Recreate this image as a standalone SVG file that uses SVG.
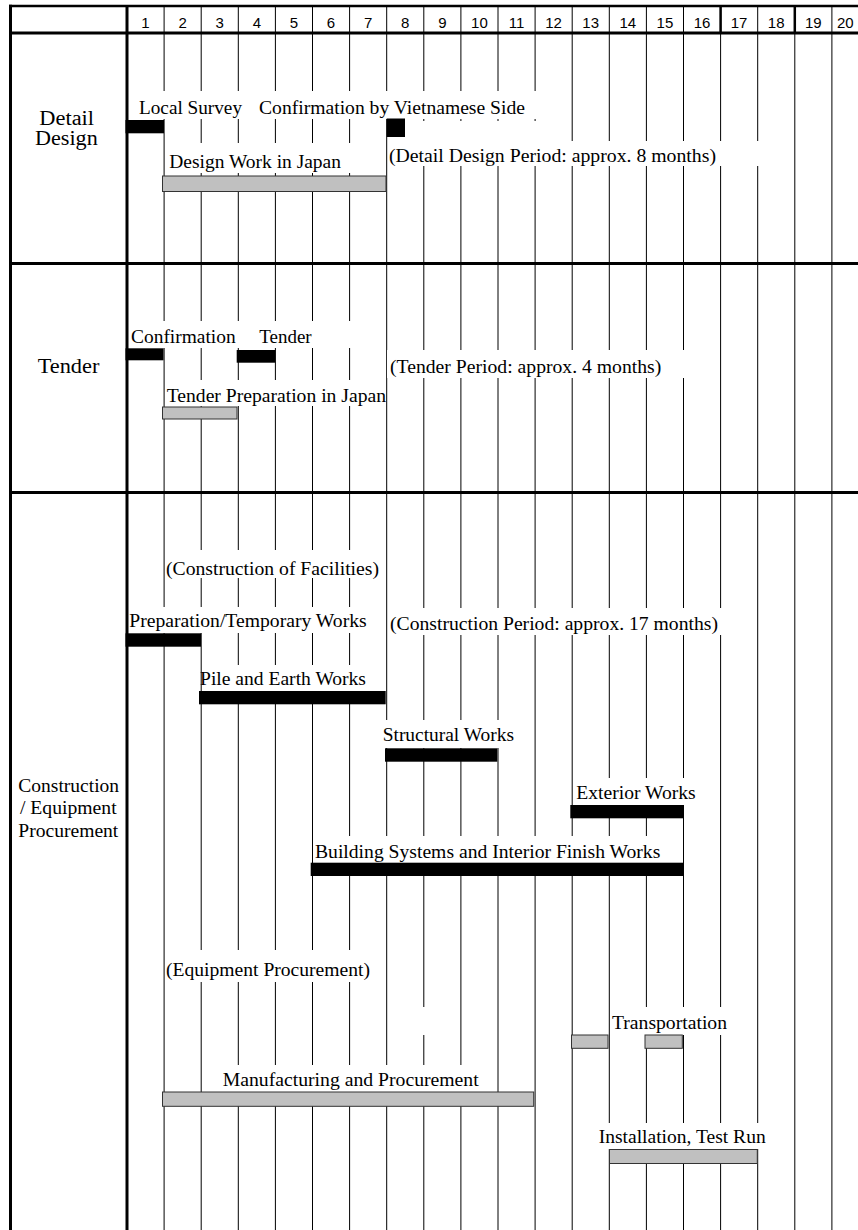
<svg xmlns="http://www.w3.org/2000/svg" width="858" height="1230" viewBox="0 0 858 1230">
<style>
.hd{font-family:"Liberation Sans",Arial,sans-serif;font-size:15px;text-anchor:middle;fill:#000}
.lb{font-family:"Liberation Serif","Times New Roman",serif;font-size:19px;fill:#000}
.rl{font-family:"Liberation Serif","Times New Roman",serif;font-size:20px;text-anchor:middle;fill:#000}
.rs{font-family:"Liberation Serif","Times New Roman",serif;font-size:19px;text-anchor:middle;fill:#000}
.bk{fill:#000}
.gr{fill:#c0c0c0;stroke:#333;stroke-width:1}
.gap{fill:#fff}
.thin{stroke:#000;stroke-width:1;fill:none}
.thick{stroke:#000;stroke-width:3;fill:none}
</style>
<rect width="858" height="1230" fill="#fff"/>
<g id="grid">
<path class="thin" d="M164.1 6V1230M201.2 6V1230M238.3 6V1230M275.4 6V1230M312.5 6V1230M349.6 6V1230M386.7 6V1230M423.8 6V1230M460.9 6V1230M498 6V1230M535.1 6V1230M572.2 6V1230M609.3 6V1230M646.4 6V1230M683.5 6V1230M720.6 6V1230M757.7 6V1230M794.8 6V1230M831.9 6V1230"/>
<path stroke="#000" stroke-width="2.5" d="M720.6 6V33M794.8 6V33"/>
<path stroke="#000" stroke-width="2.5" d="M9 6H858"/>
<path class="thick" d="M10.5 4.8V1230M127 6V1230M9 33H858M9 263.5H858M9 492.5H858"/>
</g>
<g id="header">
<text class="hd" x="145.5" y="28">1</text>
<text class="hd" x="182.6" y="28">2</text>
<text class="hd" x="219.7" y="28">3</text>
<text class="hd" x="256.8" y="28">4</text>
<text class="hd" x="293.9" y="28">5</text>
<text class="hd" x="331" y="28">6</text>
<text class="hd" x="368.1" y="28">7</text>
<text class="hd" x="405.2" y="28">8</text>
<text class="hd" x="442.3" y="28">9</text>
<text class="hd" x="479.4" y="28">10</text>
<text class="hd" x="516.5" y="28">11</text>
<text class="hd" x="553.6" y="28">12</text>
<text class="hd" x="590.7" y="28">13</text>
<text class="hd" x="627.8" y="28">14</text>
<text class="hd" x="664.9" y="28">15</text>
<text class="hd" x="702" y="28">16</text>
<text class="hd" x="739.1" y="28">17</text>
<text class="hd" x="776.2" y="28">18</text>
<text class="hd" x="813.3" y="28">19</text>
<text class="hd" x="837" y="28" style="text-anchor:start">20</text>
</g>
<g id="row-labels">
<text class="rl" x="66.7" y="124.5" textLength="54.7" lengthAdjust="spacingAndGlyphs">Detail</text>
<text class="rl" x="66.4" y="145" textLength="62.7" lengthAdjust="spacingAndGlyphs">Design</text>
<text class="rl" x="68.5" y="373" textLength="61.7" lengthAdjust="spacingAndGlyphs">Tender</text>
<text class="rs" x="68.7" y="792" textLength="100.7" lengthAdjust="spacingAndGlyphs">Construction</text>
<text class="rs" x="68.3" y="814" textLength="96.7" lengthAdjust="spacingAndGlyphs">/ Equipment</text>
<text class="rs" x="68.3" y="836.5" textLength="100" lengthAdjust="spacingAndGlyphs">Procurement</text>
</g>
<g id="text-backgrounds">
<rect class="gap" x="129" y="91" width="409" height="28"/>
<rect class="gap" x="166" y="143" width="219" height="30"/>
<rect class="gap" x="388" y="121" width="157" height="45"/>
<rect class="gap" x="545" y="141" width="217" height="25"/>
<rect class="gap" x="129" y="321" width="255" height="27"/>
<rect class="gap" x="387" y="350" width="313" height="28"/>
<rect class="gap" x="165" y="380" width="220" height="26"/>
<rect class="gap" x="165" y="550" width="219" height="28"/>
<rect class="gap" x="129" y="607" width="255" height="26"/>
<rect class="gap" x="388" y="608" width="352" height="27"/>
<rect class="gap" x="203" y="665" width="181" height="26"/>
<rect class="gap" x="383" y="720" width="135" height="28"/>
<rect class="gap" x="574" y="778" width="126" height="27"/>
<rect class="gap" x="314" y="836" width="356" height="27"/>
<rect class="gap" x="165" y="950" width="219" height="32"/>
<rect class="gap" x="405" y="1007" width="30" height="28"/>
<rect class="gap" x="611" y="1007" width="129" height="28"/>
<rect class="gap" x="205" y="1065" width="285" height="27"/>
<rect class="gap" x="597" y="1123" width="173" height="26"/>
</g>
<g id="connectors"></g>
<g id="local-survey">
<rect class="bk" x="125.5" y="120" width="38.5" height="13.3"/>
<text class="lb" x="139" y="114.3" textLength="103" lengthAdjust="spacingAndGlyphs">Local Survey</text>
</g>
<g id="confirmation-vn">
<rect class="bk" x="386.7" y="118.5" width="18.3" height="18.5"/>
<text class="lb" x="259" y="114.3" textLength="266" lengthAdjust="spacingAndGlyphs">Confirmation by Vietnamese Side</text>
</g>
<g id="design-work">
<rect class="gr" x="162.5" y="176" width="223.5" height="15.5"/>
<text class="lb" x="169.3" y="168" textLength="171.7" lengthAdjust="spacingAndGlyphs">Design Work in Japan</text>
</g>
<g id="detail-period">
<text class="lb" x="389" y="162" textLength="327" lengthAdjust="spacingAndGlyphs">(Detail Design Period: approx. 8 months)</text>
</g>
<g id="tender-confirmation">
<rect class="bk" x="125.5" y="348.3" width="38" height="12"/>
<text class="lb" x="131" y="342.5" textLength="104.7" lengthAdjust="spacingAndGlyphs">Confirmation</text>
</g>
<g id="tender">
<rect class="bk" x="236.7" y="350" width="38.6" height="12.7"/>
<text class="lb" x="259.3" y="342.5" textLength="52.4" lengthAdjust="spacingAndGlyphs">Tender</text>
</g>
<g id="tender-preparation">
<rect class="gr" x="162.5" y="407" width="74.5" height="12"/>
<text class="lb" x="166.7" y="401.5" textLength="219.3" lengthAdjust="spacingAndGlyphs">Tender Preparation in Japan</text>
</g>
<g id="tender-period">
<text class="lb" x="390" y="372.5" textLength="271.3" lengthAdjust="spacingAndGlyphs">(Tender Period: approx. 4 months)</text>
</g>
<g id="construction-facilities">
<text class="lb" x="166" y="574.5" textLength="213" lengthAdjust="spacingAndGlyphs">(Construction of Facilities)</text>
</g>
<g id="preparation-works">
<rect class="bk" x="125.5" y="633.3" width="75.5" height="13.4"/>
<text class="lb" x="129.3" y="626.5" textLength="237.4" lengthAdjust="spacingAndGlyphs">Preparation/Temporary Works</text>
</g>
<g id="construction-period">
<text class="lb" x="390" y="629.5" textLength="328" lengthAdjust="spacingAndGlyphs">(Construction Period: approx. 17 months)</text>
</g>
<g id="pile-earth">
<rect class="bk" x="199" y="691" width="186.7" height="13.3"/>
<text class="lb" x="200" y="685" textLength="166" lengthAdjust="spacingAndGlyphs">Pile and Earth Works</text>
</g>
<g id="structural">
<rect class="bk" x="385" y="748.3" width="112.3" height="13.4"/>
<text class="lb" x="382.7" y="741" textLength="131.3" lengthAdjust="spacingAndGlyphs">Structural Works</text>
</g>
<g id="exterior">
<rect class="bk" x="570.3" y="805" width="112.7" height="13.3"/>
<text class="lb" x="576.3" y="799.3" textLength="119.4" lengthAdjust="spacingAndGlyphs">Exterior Works</text>
</g>
<g id="building-systems">
<rect class="bk" x="310.7" y="862.7" width="372.3" height="13.3"/>
<text class="lb" x="315" y="858.3" textLength="345.3" lengthAdjust="spacingAndGlyphs">Building Systems and Interior Finish Works</text>
</g>
<g id="equipment-procurement">
<text class="lb" x="166" y="976" textLength="204" lengthAdjust="spacingAndGlyphs">(Equipment Procurement)</text>
</g>
<g id="transportation">
<rect class="gr" x="571.5" y="1035" width="36.5" height="13.3"/>
<rect class="gr" x="645" y="1035" width="37.3" height="13.3"/>
<text class="lb" x="612" y="1028.5" textLength="115" lengthAdjust="spacingAndGlyphs">Transportation</text>
</g>
<g id="manufacturing">
<rect class="gr" x="162.5" y="1092" width="371.2" height="14.3"/>
<text class="lb" x="222.7" y="1086" textLength="256" lengthAdjust="spacingAndGlyphs">Manufacturing and Procurement</text>
</g>
<g id="installation">
<rect class="gr" x="609.5" y="1149.5" width="147.8" height="14"/>
<text class="lb" x="598.7" y="1142.7" textLength="167" lengthAdjust="spacingAndGlyphs">Installation, Test Run</text>
</g>
</svg>
